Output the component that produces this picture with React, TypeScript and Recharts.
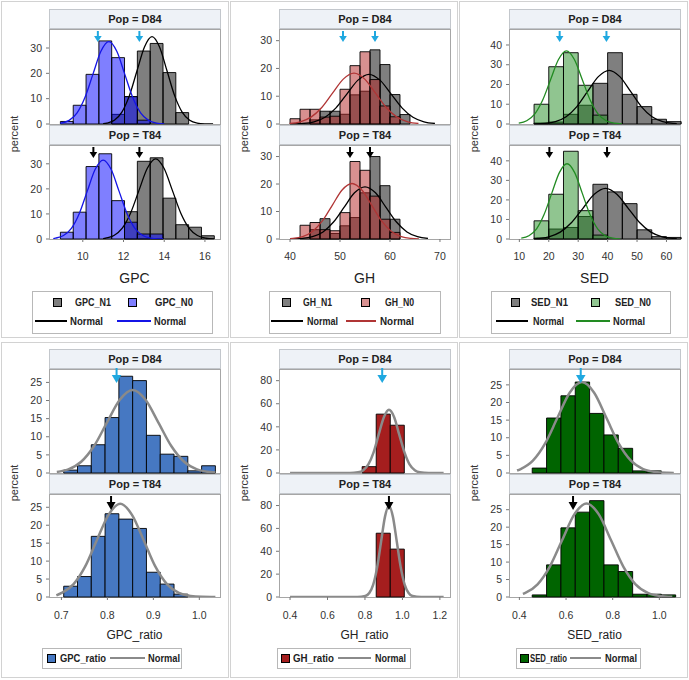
import React from 'react';
import { ComposedChart, XAxis, YAxis, Line, ReferenceArea, ReferenceDot } from 'recharts';

const FONT = '"Liberation Sans", Arial, sans-serif';

// ---------- Panel 1: GPC ----------
const gpcEdges = [8.9, 9.53, 10.16, 10.79, 11.42, 12.05, 12.68, 13.31, 13.94, 14.57, 15.2, 15.83, 16.46];
const gpcD84N1 = [0, 0, 0, 0, 3.8, 10.8, 28.8, 31.8, 20.3, 4.5, 0, 0];
const gpcD84N0 = [1.0, 7.4, 19.6, 32.8, 26.2, 10.8, 1.5, 0, 0, 0, 0, 0];
const gpcT84N1 = [0, 0, 0, 0, 0, 10.9, 31.0, 32.4, 16.3, 5.7, 4.7, 1.3];
const gpcT84N0 = [2.7, 10.7, 28.9, 34.0, 15.3, 6.7, 2.0, 2.0, 0, 0, 0, 0];
const gpcD84N0Curve = [[8.9,0.3],[9.33,1.43],[9.72,4.4],[10.11,10.55],[10.5,19.7],[10.89,28.7],[11.28,32.5],[11.67,28.7],[12.06,19.7],[12.45,10.55],[12.84,4.4],[13.23,1.43],[13.62,0.36],[14.0,0.07]];
const gpcD84N1Curve = [[11.0,0.1],[11.18,0.38],[11.55,1.5],[11.92,4.7],[12.29,11.2],[12.66,20.9],[13.03,30.4],[13.4,34.5],[13.77,30.4],[14.14,20.9],[14.51,11.2],[14.88,4.7],[15.25,1.5],[15.62,0.38],[16.0,0.08],[16.4,0.01]];
const gpcT84N0Curve = [[8.55,0.15],[8.66,0.35],[9.05,1.38],[9.44,4.26],[9.83,10.2],[10.22,19.1],[10.61,27.8],[11.0,31.5],[11.39,27.8],[11.78,19.1],[12.17,10.2],[12.56,4.26],[12.95,1.38],[13.34,0.35],[13.73,0.07],[13.95,0.02]];
const gpcT84N1Curve = [[11.0,0.1],[11.12,0.36],[11.53,1.4],[11.94,4.33],[12.35,10.4],[12.76,19.4],[13.17,28.2],[13.58,32],[13.99,28.2],[14.4,19.4],[14.81,10.4],[15.22,4.33],[15.63,1.4],[16.04,0.36],[16.45,0.07]];
const gpcD84Arrows = [10.74, 12.78];
const gpcT84Arrows = [10.52, 12.78];
const gpcXTicks = [10, 12, 14, 16];
const gpcYTicks = [0, 10, 20, 30];

// ---------- Panel 2: GH ----------
const ghEdges = [40, 42, 44, 46, 48, 50, 52, 54, 56, 58, 60, 62, 64];
const ghD84N1 = [0, 0, 1.5, 4.6, 4.6, 3.5, 10.5, 11.8, 26.7, 21.4, 10.6, 3.4];
const ghD84N0 = [1.9, 5.3, 5.3, 2.5, 2.8, 12.5, 21.0, 26.0, 16.0, 6.5, 2.6, 0];
const ghT84N1 = [0, 0, 3.4, 7.4, 2.0, 4.8, 7.8, 16.8, 30.0, 19.4, 7.2, 0];
const ghT84N0 = [0, 5.0, 6.0, 3.4, 3.0, 9.6, 28.2, 25.0, 15.6, 7.2, 2.4, 0];
const ghD84N0Curve = [[39.9,0.2],[42.05,0.8],[44.2,2.48],[46.35,5.94],[48.5,11.1],[50.65,16.15],[52.8,18.3],[54.95,16.15],[57.1,11.1],[59.25,5.94],[61.4,2.48],[63.55,0.8],[65.7,0.2]];
const ghD84N1Curve = [[40,0.03],[42.6,0.2],[44.8,0.79],[47.0,2.42],[49.2,5.81],[51.4,10.86],[53.6,15.8],[55.8,17.9],[58.0,15.8],[60.2,10.86],[62.4,5.81],[64.6,2.42],[66.8,0.79],[69.0,0.2]];
const ghT84N0Curve = [[40,0.15],[40.55,0.22],[42.52,0.89],[44.5,2.73],[46.47,6.56],[48.45,12.25],[50.42,17.83],[52.4,20.2],[54.37,17.83],[56.35,12.25],[58.32,6.56],[60.3,2.73],[62.27,0.89],[64.25,0.22],[65.8,0.06]];
const ghT84N1Curve = [[40,0.05],[42.4,0.21],[44.5,0.83],[46.6,2.57],[48.7,6.17],[50.8,11.5],[52.9,16.8],[55,19],[57.1,16.8],[59.2,11.5],[61.3,6.17],[63.4,2.57],[65.5,0.83],[67.6,0.21]];
const ghD84Arrows = [50.6, 57.0];
const ghT84Arrows = [52.0, 56.0];
const ghXTicks = [40, 50, 60, 70];
const ghYTicks = [0, 10, 20, 30];

// ---------- Panel 3: SED ----------
const sedEdges = [15, 20, 25, 30, 35, 40, 45, 50, 55, 60, 65];
const sedD84N1 = [0.5, 1.0, 4.9, 9.5, 20.6, 36.1, 15.0, 8.8, 2.4, 1.2];
const sedD84N0 = [10.0, 29.0, 36.1, 19.6, 4.5, 0, 0, 0, 0, 0];
const sedT84N1 = [0.5, 5.1, 5.9, 11.5, 28.0, 24.1, 18.1, 4.7, 1.2, 0.8];
const sedT84N0 = [9.3, 22.9, 44.9, 14.5, 2.0, 0, 0, 0, 0, 0];
const sedD84N0Curve = [[9.8,0.41],[12.5,1.62],[15.2,5.0],[17.9,12.0],[20.6,22.4],[23.3,32.65],[26,37],[28.7,32.65],[31.4,22.4],[34.1,12.0],[36.8,5.0],[39.5,1.62],[42.2,0.41],[44.9,0.08]];
const sedD84N1Curve = [[15,0.05],[18.6,0.3],[22.25,1.19],[25.9,3.68],[29.55,8.83],[33.2,16.5],[36.85,24.0],[40.5,27.2],[44.15,24.0],[47.8,16.5],[51.45,8.83],[55.1,3.68],[58.75,1.19],[62.4,0.3],[63.5,0.18]];
const sedT84N0Curve = [[10.66,0.43],[13.25,1.69],[15.85,5.2],[18.4,12.5],[21.0,23.35],[23.6,33.98],[26.2,38.5],[28.8,33.98],[31.4,23.35],[34.0,12.5],[36.6,5.2],[39.2,1.69],[41.75,0.43],[44.3,0.08]];
const sedT84N1Curve = [[15,0.05],[16.2,0.29],[20.05,1.14],[23.9,3.5],[27.75,8.41],[31.6,15.7],[35.45,22.86],[39.3,25.9],[43.15,22.86],[47.0,15.7],[50.85,8.41],[54.7,3.5],[58.55,1.14],[62.4,0.29],[63.5,0.17]];
const sedD84Arrows = [23.7, 39.6];
const sedT84Arrows = [20.2, 39.8];
const sedXTicks = [10, 20, 30, 40, 50, 60];
const sedYTicks = [0, 10, 20, 30, 40];

// ---------- Panel 4: GPC_ratio ----------
const gpcrEdges = [0.705, 0.735, 0.765, 0.795, 0.825, 0.855, 0.885, 0.915, 0.945, 0.975, 1.005, 1.035];
const gpcrD84 = [0.8, 2.0, 7.8, 15.3, 26.7, 25.5, 10.4, 5.2, 4.6, 0.6, 2.0];
const gpcrT84 = [3.0, 5.7, 16.9, 23.2, 21.7, 19.1, 6.9, 3.6, 0.8, 0, 0];
const gpcrD84Curve = [[0.69,0.3],[0.715,1.0],[0.743,3.1],[0.771,7.44],[0.799,13.9],[0.827,20.2],[0.855,22.9],[0.883,20.2],[0.911,13.9],[0.939,7.44],[0.967,3.1],[0.995,1.0],[1.023,0.25],[1.035,0.12]];
const gpcrT84Curve = [[0.689,0.45],[0.7005,1.14],[0.726,3.52],[0.7515,8.44],[0.777,15.8],[0.8025,22.9],[0.828,26],[0.8535,22.9],[0.879,15.8],[0.9045,8.44],[0.93,3.52],[0.9555,1.14],[0.981,0.29],[1.006,0.06],[1.035,0.0]];
const gpcrD84Arrows = [0.82];
const gpcrT84Arrows = [0.808];
const gpcrXTicks = [0.7, 0.8, 0.9, 1.0];
const gpcrYTicks = [0, 5, 10, 15, 20, 25];

// ---------- Panel 5: GH_ratio ----------
const ghrEdges = [0.785, 0.86, 0.935, 1.01];
const ghrD84 = [5.5, 51.0, 41.4];
const ghrT84 = [0, 55.8, 41.9];
const ghrD84Curve = [[0.4,0],[0.72,0.05],[0.763,0.6],[0.791,2.4],[0.818,7.4],[0.846,17.8],[0.873,33.2],[0.901,48.3],[0.928,54.7],[0.956,48.3],[0.983,33.2],[1.011,17.8],[1.038,7.4],[1.066,2.4],[1.093,0.6],[1.14,0.05],[1.22,0]];
const ghrT84Curve = [[0.4,0],[0.76,0.02],[0.802,0.9],[0.823,3.5],[0.844,10.8],[0.865,25.9],[0.886,48.3],[0.907,70.3],[0.928,79.7],[0.949,70.3],[0.97,48.3],[0.991,25.9],[1.012,10.8],[1.033,3.5],[1.054,0.9],[1.1,0.02],[1.22,0]];
const ghrD84Arrows = [0.892];
const ghrT84Arrows = [0.928];
const ghrXTicks = [0.4, 0.6, 0.8, 1.0, 1.2];
const ghrYTicks = [0, 20, 40, 60, 80];

// ---------- Panel 6: SED_ratio ----------
const sedrEdges = [0.455, 0.5165, 0.578, 0.6395, 0.701, 0.7625, 0.824, 0.8855, 0.947, 1.0085, 1.07];
const sedrD84 = [1.4, 15.6, 21.9, 25.8, 16.9, 10.8, 7.0, 0.6, 0.6, 0];
const sedrT84 = [0.6, 9.2, 19.8, 24.3, 27.6, 9.2, 7.3, 0.8, 0.8, 0.6];
const sedrD84Curve = [[0.39,0.7],[0.4055,1.13],[0.458,3.49],[0.5105,8.38],[0.563,15.65],[0.6155,22.77],[0.668,25.8],[0.7205,22.77],[0.773,15.65],[0.8255,8.38],[0.878,3.49],[0.9305,1.13],[0.983,0.29],[1.0355,0.06],[1.062,0.02]];
const sedrT84Curve = [[0.415,0.9],[0.4255,1.18],[0.478,3.63],[0.5305,8.7],[0.583,16.25],[0.6355,23.65],[0.688,26.8],[0.7405,23.65],[0.793,16.25],[0.8455,8.7],[0.898,3.63],[0.9505,1.18],[1.003,0.3],[1.0555,0.06]];
const sedrD84Arrows = [0.663];
const sedrT84Arrows = [0.63];
const sedrXTicks = [0.4, 0.6, 0.8, 1.0];
const sedrYTicks = [0, 5, 10, 15, 20, 25];

const CYAN = '#1FA8E0';

type Hist = { edges: number[]; values: number[]; fill: string; opacity: number };
type Curve = { pts: number[][]; color: string; width: number };
type ArrowSpec = { xs: number[]; color: string; y0: number; shaft: number; head: number; hw: number };

const ArrowShape = (props: any) => {
  const { cx, cy, color, y0, shaft, head, hw } = props;
  if (!isFinite(cx) || !isFinite(cy)) return null;
  const t = cy + y0;
  return (
    <g>
      <line x1={cx} x2={cx} y1={t} y2={t + shaft + 1} stroke={color} strokeWidth={2} />
      <polygon points={`${cx - hw},${t + shaft} ${cx + hw},${t + shaft} ${cx},${t + shaft + head}`} fill={color} />
    </g>
  );
};

function Sub(p: {
  fx: number; fy: number; fw: number; fh: number;
  xDomain: number[]; yDomain: number[]; xTicks?: number[]; yTicks: number[];
  showX: boolean; hists: Hist[]; curves: Curve[]; arrow: ArrowSpec; xTickMargin?: number; xFmt?: (v: number) => string;
}) {
  const yw = 40, mt = 8, mr = 4, xh = p.showX ? 34 : 0, mb = p.showX ? 0 : 8;
  const tickStyle = { fontSize: 10.5, fill: '#333', fontFamily: FONT };
  return (
    <div style={{ position: 'absolute', left: p.fx - yw, top: p.fy - mt }}>
      <ComposedChart width={yw + p.fw + mr} height={mt + p.fh + xh + mb} margin={{ top: mt, right: mr, bottom: mb, left: 0 }}>
        <XAxis type="number" dataKey="x" domain={p.xDomain} ticks={p.xTicks} hide={!p.showX} allowDataOverflow
          axisLine={false} tickLine={{ stroke: '#777' }} tickSize={3} tickMargin={p.xTickMargin ?? 11}
          tick={tickStyle} height={xh} interval={0} tickFormatter={p.xFmt} />
        <YAxis type="number" domain={p.yDomain} ticks={p.yTicks} allowDataOverflow width={yw}
          axisLine={false} tickLine={{ stroke: '#777' }} tickSize={3} tickMargin={4} tick={tickStyle} interval={0} />
        {p.hists.map((h, hi) =>
          h.values.map((v, i) =>
            v > 0 ? (
              <ReferenceArea key={`h${hi}-${i}`} x1={h.edges[i]} x2={h.edges[i + 1]} y1={0} y2={v}
                fill={h.fill} fillOpacity={h.opacity} stroke="#000" strokeWidth={1} strokeOpacity={0.9} ifOverflow="visible" />
            ) : null
          )
        )}
        {p.curves.map((c, ci) => (
          <Line key={`c${ci}`} data={c.pts.map(([x, y]) => ({ x, y }))} dataKey="y" type="monotone"
            stroke={c.color} strokeWidth={c.width} dot={false} activeDot={false} isAnimationActive={false} />
        ))}
        {p.arrow.xs.map((x, ai) => (
          <ReferenceDot key={`a${ai}`} x={x} y={p.yDomain[1]} r={3} ifOverflow="visible"
            shape={(sp: any) => <ArrowShape {...sp} color={p.arrow.color} y0={p.arrow.y0} shaft={p.arrow.shaft} head={p.arrow.head} hw={p.arrow.hw} />} />
        ))}
      </ComposedChart>
    </div>
  );
}

const abs = (l: number, t: number, w: number, h: number, extra: any = {}) => ({
  position: 'absolute' as const, left: l, top: t, width: w, height: h, boxSizing: 'border-box' as const, ...extra,
});

function Header({ x, y, w, text }: { x: number; y: number; w: number; text: string }) {
  return (
    <div style={abs(x, y, w + 1, 20, { border: '1px solid #C3C7CC', background: '#EEF2F7', fontFamily: FONT, fontSize: 11, fontWeight: 'bold', color: '#222', textAlign: 'center', lineHeight: '18px' })}>
      {text}
    </div>
  );
}

function Frame({ x, y, w, h }: { x: number; y: number; w: number; h: number }) {
  return <div style={abs(x, y, w + 1, h + 1, { border: '1px solid #A6A6A6' })} />;
}

function TextAt({ x, y, text, size }: any) {
  return (
    <div style={{ position: 'absolute', left: x, top: y, transform: 'translate(-50%,-50%)', fontFamily: FONT, fontSize: size, color: '#222', whiteSpace: 'nowrap', lineHeight: 1 }}>
      {text}
    </div>
  );
}

function LegText({ x, y, text, w }: { x: number; y: number; text: string; w: number }) {
  return (
    <svg style={{ position: 'absolute', left: x, top: y - 8, overflow: 'visible' }} width={w + 2} height={16}>
      <text x={0} y={11.8} fontFamily={FONT} fontSize={10.5} fontWeight="bold" fill="#222" textLength={w} lengthAdjust="spacingAndGlyphs">{text}</text>
    </svg>
  );
}

function RotLabel({ x, y, text }: { x: number; y: number; text: string }) {
  return (
    <div style={{ position: 'absolute', left: x, top: y, transform: 'translate(-50%,-50%) rotate(-90deg)', fontFamily: FONT, fontSize: 11, color: '#333', whiteSpace: 'nowrap', lineHeight: 1 }}>
      {text}
    </div>
  );
}

function Swatch({ x, y, size, fill, opacity }: any) {
  return (
    <div style={abs(x, y - size / 2, size, size, { border: '1px solid #000' })}>
      <div style={{ width: '100%', height: '100%', background: fill, opacity }} />
    </div>
  );
}

function LegLine({ x1, x2, y, color, w }: any) {
  return <div style={{ position: 'absolute', left: x1, top: y - w / 2, width: x2 - x1, height: w, background: color }} />;
}

const PANEL_X = [49, 279, 509];
const FW = 171;
const fmt1 = (v: number) => v.toFixed(1);

type PanelProps = {
  i: number; xDomain: number[]; yDomain: number[]; xTicks: number[]; yTicks: number[];
  d84: Hist[]; t84: Hist[]; d84c: Curve[]; t84c: Curve[]; d84a: number[]; t84a: number[]; title: string;
};

function TopPanel(p: PanelProps) {
  const fx = PANEL_X[p.i];
  const aD: ArrowSpec = { xs: p.d84a, color: CYAN, y0: 2, shaft: 5, head: 6, hw: 3.8 };
  const aT: ArrowSpec = { xs: p.t84a, color: '#000', y0: 2, shaft: 5, head: 6, hw: 3.8 };
  return (
    <>
      <Header x={fx} y={9} w={FW} text="Pop = D84" />
      <Frame x={fx} y={29} w={FW} h={95} />
      <Header x={fx} y={125} w={FW} text="Pop = T84" />
      <Frame x={fx} y={145} w={FW} h={94} />
      <Sub fx={fx} fy={29} fw={FW} fh={95} xDomain={p.xDomain} yDomain={p.yDomain} yTicks={p.yTicks} showX={false} hists={p.d84} curves={p.d84c} arrow={aD} />
      <Sub fx={fx} fy={145} fw={FW} fh={94} xDomain={p.xDomain} yDomain={p.yDomain} yTicks={p.yTicks} xTicks={p.xTicks} showX={true} hists={p.t84} curves={p.t84c} arrow={aT} />
      <RotLabel x={fx - 35} y={134} text="percent" />
      <TextAt x={fx + FW / 2} y={278} text={p.title} size={14} />
    </>
  );
}

function BottomPanel(p: PanelProps) {
  const fx = PANEL_X[p.i];
  const aD: ArrowSpec = { xs: p.d84a, color: CYAN, y0: -1, shaft: 7, head: 8, hw: 4.8 };
  const aT: ArrowSpec = { xs: p.t84a, color: '#000', y0: 2, shaft: 6, head: 8, hw: 4.5 };
  return (
    <>
      <Header x={fx} y={349} w={FW} text="Pop = D84" />
      <Frame x={fx} y={369} w={FW} h={104} />
      <Header x={fx} y={474} w={FW} text="Pop = T84" />
      <Frame x={fx} y={494} w={FW} h={103} />
      <Sub fx={fx} fy={369} fw={FW} fh={104} xDomain={p.xDomain} yDomain={p.yDomain} yTicks={p.yTicks} showX={false} hists={p.d84} curves={p.d84c} arrow={aD} />
      <Sub fx={fx} fy={494} fw={FW} fh={103} xDomain={p.xDomain} yDomain={p.yDomain} yTicks={p.yTicks} xTicks={p.xTicks} showX={true} hists={p.t84} curves={p.t84c} arrow={aT} xTickMargin={12} xFmt={fmt1} />
      <RotLabel x={fx - 35} y={483} text="percent" />
      <TextAt x={fx + FW / 2} y={635} text={p.title} size={12} />
    </>
  );
}

const N1 = { fill: '#000000', opacity: 0.5 };
const BLUE = '#0000FF', RED = '#B22222', GREEN = '#228B22';
const h = (edges: number[], values: number[], fill: string, opacity: number): Hist => ({ edges, values, fill, opacity });
const c = (pts: number[][], color: string, width: number): Curve => ({ pts, color, width });
const GRAYC = '#8A8A8A';

function TopLegend({ bx, bw, sq1, t1, w1, sq2, t2, w2, l1, lt1, wl1, l2, lt2, wl2, n1, n0, color, lineColor }: any) {
  return (
    <>
      <div style={abs(bx, 291, bw, 43, { border: '1px solid #B8B8B8' })} />
      <Swatch x={sq1} y={302} size={9} fill="#000" opacity={0.5} />
      <LegText x={t1} y={302} text={n1} w={w1} />
      <Swatch x={sq2} y={302} size={9} fill={color} opacity={0.5} />
      <LegText x={t2} y={302} text={n0} w={w2} />
      <LegLine x1={l1[0]} x2={l1[1]} y={321} color="#000" w={1.3} />
      <LegText x={lt1} y={321} text="Normal" w={wl1} />
      <LegLine x1={l2[0]} x2={l2[1]} y={321} color={lineColor} w={1.3} />
      <LegText x={lt2} y={321} text="Normal" w={wl2} />
    </>
  );
}

function BottomLegend({ bx, bw, sq, t, w, l, lt, wl, name, color }: any) {
  return (
    <>
      <div style={abs(bx, 648, bw, 21, { border: '1px solid #B8B8B8' })} />
      <Swatch x={sq} y={658} size={9} fill={color} opacity={1} />
      <LegText x={t} y={658} text={name} w={w} />
      <LegLine x1={l[0]} x2={l[1]} y={658} color={GRAYC} w={2.5} />
      <LegText x={lt} y={658} text="Normal" w={wl} />
    </>
  );
}

export default function App() {
  const panelBorder = { border: '1px solid #D2D2D2', background: '#fff' };
  return (
    <div style={{ position: 'absolute', left: 0, top: 0, width: 689, height: 680, background: '#fff', overflow: 'hidden' }}>
      <div style={abs(1, 1, 228, 337, panelBorder)} />
      <div style={abs(230, 1, 228, 337, panelBorder)} />
      <div style={abs(459, 1, 229, 337, panelBorder)} />
      <div style={abs(1, 342, 228, 336, panelBorder)} />
      <div style={abs(230, 342, 228, 336, panelBorder)} />
      <div style={abs(459, 342, 229, 336, panelBorder)} />

      <TopPanel i={0} xDomain={[8.34, 16.74]} yDomain={[0, 37.5]} xTicks={gpcXTicks} yTicks={gpcYTicks}
        d84={[h(gpcEdges, gpcD84N1, N1.fill, N1.opacity), h(gpcEdges, gpcD84N0, BLUE, 0.5)]}
        t84={[h(gpcEdges, gpcT84N1, N1.fill, N1.opacity), h(gpcEdges, gpcT84N0, BLUE, 0.5)]}
        d84c={[c(gpcD84N1Curve, '#000', 1.3), c(gpcD84N0Curve, '#1414E6', 1.3)]}
        t84c={[c(gpcT84N1Curve, '#000', 1.3), c(gpcT84N0Curve, '#1414E6', 1.3)]}
        d84a={gpcD84Arrows} t84a={gpcT84Arrows} title="GPC" />
      <TopPanel i={1} xDomain={[37.79, 72.01]} yDomain={[0, 34.2]} xTicks={ghXTicks} yTicks={ghYTicks}
        d84={[h(ghEdges, ghD84N1, N1.fill, N1.opacity), h(ghEdges, ghD84N0, RED, 0.5)]}
        t84={[h(ghEdges, ghT84N1, N1.fill, N1.opacity), h(ghEdges, ghT84N0, RED, 0.5)]}
        d84c={[c(ghD84N1Curve, '#000', 1.3), c(ghD84N0Curve, '#B03535', 1.3)]}
        t84c={[c(ghT84N1Curve, '#000', 1.3), c(ghT84N0Curve, '#B03535', 1.3)]}
        d84a={ghD84Arrows} t84a={ghT84Arrows} title="GH" />
      <TopPanel i={2} xDomain={[6.48, 64.6]} yDomain={[0, 48.1]} xTicks={sedXTicks} yTicks={sedYTicks}
        d84={[h(sedEdges, sedD84N1, N1.fill, N1.opacity), h(sedEdges, sedD84N0, GREEN, 0.5)]}
        t84={[h(sedEdges, sedT84N1, N1.fill, N1.opacity), h(sedEdges, sedT84N0, GREEN, 0.5)]}
        d84c={[c(sedD84N1Curve, '#000', 1.3), c(sedD84N0Curve, '#228B22', 1.3)]}
        t84c={[c(sedT84N1Curve, '#000', 1.3), c(sedT84N0Curve, '#228B22', 1.3)]}
        d84a={sedD84Arrows} t84a={sedT84Arrows} title="SED" />

      <BottomPanel i={0} xDomain={[0.673, 1.045]} yDomain={[0, 28.7]} xTicks={gpcrXTicks} yTicks={gpcrYTicks}
        d84={[h(gpcrEdges, gpcrD84, '#4678C2', 1)]} t84={[h(gpcrEdges, gpcrT84, '#4678C2', 1)]}
        d84c={[c(gpcrD84Curve, GRAYC, 2.5)]} t84c={[c(gpcrT84Curve, GRAYC, 2.5)]}
        d84a={gpcrD84Arrows} t84a={gpcrT84Arrows} title="GPC_ratio" />
      <BottomPanel i={1} xDomain={[0.341, 1.254]} yDomain={[0, 90.1]} xTicks={ghrXTicks} yTicks={ghrYTicks}
        d84={[h(ghrEdges, ghrD84, '#A51E1E', 1)]} t84={[h(ghrEdges, ghrT84, '#A51E1E', 1)]}
        d84c={[c(ghrD84Curve, GRAYC, 2.5)]} t84c={[c(ghrT84Curve, GRAYC, 2.5)]}
        d84a={ghrD84Arrows} t84a={ghrT84Arrows} title="GH_ratio" />
      <BottomPanel i={2} xDomain={[0.3555, 1.0885]} yDomain={[0, 29.5]} xTicks={sedrXTicks} yTicks={sedrYTicks}
        d84={[h(sedrEdges, sedrD84, '#006400', 1)]} t84={[h(sedrEdges, sedrT84, '#006400', 1)]}
        d84c={[c(sedrD84Curve, GRAYC, 2.5)]} t84c={[c(sedrT84Curve, GRAYC, 2.5)]}
        d84a={sedrD84Arrows} t84a={sedrT84Arrows} title="SED_ratio" />

      <TopLegend bx={32} bw={181} sq1={53} t1={75} w1={36} sq2={128} t2={155} w2={38} l1={[35, 67]} lt1={70} wl1={33} l2={[117, 151]} lt2={154} wl2={32}
        n1="GPC_N1" n0="GPC_N0" color={BLUE} lineColor="#1414E6" />
      <TopLegend bx={269} bw={172} sq1={282} t1={303} w1={29} sq2={361} t2={385} w2={29} l1={[271, 303]} lt1={307} wl1={31} l2={[346, 376]} lt2={380} wl2={34}
        n1="GH_N1" n0="GH_N0" color={RED} lineColor="#B03535" />
      <TopLegend bx={491} bw={180} sq1={511} t1={531} w1={37} sq2={591} t2={615} w2={36} l1={[496, 528]} lt1={533} wl1={31} l2={[576, 610]} lt2={613} wl2={32}
        n1="SED_N1" n0="SED_N0" color={GREEN} lineColor="#228B22" />

      <BottomLegend bx={42} bw={140} sq={47} t={60} w={46} l={[110, 145]} lt={148} wl={32} name="GPC_ratio" color="#4678C2" />
      <BottomLegend bx={277} bw={134} sq={281} t={293} w={41} l={[338, 371]} lt={375} wl={31} name="GH_ratio" color="#A51E1E" />
      <BottomLegend bx={516} bw={125} sq={520} t={530} w={37} l={[570, 601]} lt={605} wl={32} name="SED_ratio" color="#006400" />
    </div>
  );
}
